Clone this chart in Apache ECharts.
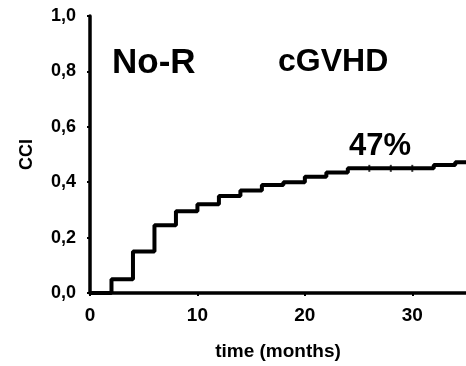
<!DOCTYPE html>
<html>
<head>
<meta charset="utf-8">
<script src="https://cdn.jsdelivr.net/npm/echarts@6/dist/echarts.min.js"></script>
<style>
  html, body { margin: 0; padding: 0; background: #fff; }
  #chart { width: 466px; height: 366px; }
</style>
</head>
<body>
<div id="chart"></div>
<script>
// step points of the cumulative incidence curve (months, CCI)
const stepTimes  = [0, 2, 4, 6, 8, 10, 12, 14, 16, 18, 20, 22, 24, 32, 34, 35];
const stepValues = [0, 0.05, 0.15, 0.245, 0.295, 0.32, 0.35, 0.37, 0.39, 0.40, 0.42, 0.435, 0.45, 0.462, 0.472, 0.472];
// censor marks on the flat part
const censorTimes  = [26, 28, 30];
const censorValues = [0.45, 0.45, 0.45];

const xTicks = [0, 10, 20, 30];

const groupLabel = 'No-R';
const endpointLabel = 'cGVHD';
const finalLabel = '47%';

const FONT = '"Liberation Sans", Arial, sans-serif';

const chart = echarts.init(document.getElementById('chart'), null, { renderer: 'canvas' });

const option = {
  animation: false,
  backgroundColor: '#fff',
  grid: { left: 90, right: 0, top: 16, bottom: 71, containLabel: false },
  xAxis: {
    type: 'value',
    min: 0,
    max: 35,
    interval: 10,
    name: 'time (months)',
    nameLocation: 'middle',
    nameGap: 49,
    nameTextStyle: { color: '#000', fontFamily: FONT, fontWeight: 'bold', fontSize: 19 },
    axisLine: { show: true, lineStyle: { color: '#000', width: 3.5 } },
    axisTick: { show: true, length: 3, lineStyle: { color: '#000', width: 2 } },
    axisLabel: {
      color: '#000', fontFamily: FONT, fontWeight: 'bold', fontSize: 19, margin: 13,
      showMaxLabel: false,
      formatter: v => (xTicks.indexOf(v) >= 0 ? String(v) : '')
    },
    splitLine: { show: false }
  },
  yAxis: {
    type: 'value',
    min: 0,
    max: 1,
    interval: 0.2,
    name: 'CCI',
    nameLocation: 'middle',
    nameGap: 54,
    nameRotate: 90,
    nameTextStyle: { color: '#000', fontFamily: FONT, fontWeight: 'bold', fontSize: 18 },
    axisLine: { show: true, lineStyle: { color: '#000', width: 3.5 } },
    axisTick: { show: true, length: 3, lineStyle: { color: '#000', width: 2 } },
    axisLabel: {
      color: '#000', fontFamily: FONT, fontWeight: 'bold', fontSize: 18, margin: 14,
      formatter: v => v.toFixed(1).replace('.', ',')
    },
    splitLine: { show: false }
  },
  series: [
    {
      type: 'line',
      step: 'end',
      symbol: 'none',
      clip: false,
      lineStyle: { color: '#000', width: 4 },
      data: stepTimes.map((t, i) => [t, stepValues[i]]),
      z: 3
    },
    {
      type: 'scatter',
      symbol: 'rect',
      symbolSize: [2, 7],
      itemStyle: { color: '#000' },
      data: censorTimes.map((t, i) => [t, censorValues[i]]),
      z: 4
    }
  ],
  graphic: [
    {
      type: 'text', left: 112, top: 46,
      style: { text: groupLabel, fill: '#000', font: 'bold 35px ' + FONT }
    },
    {
      type: 'text', left: 278, top: 46,
      style: { text: endpointLabel, fill: '#000', font: 'bold 32px ' + FONT }
    },
    {
      type: 'text', left: 349, top: 131,
      style: { text: finalLabel, fill: '#000', font: 'bold 31px ' + FONT }
    }
  ]
};

chart.setOption(option);
</script>
</body>
</html>
